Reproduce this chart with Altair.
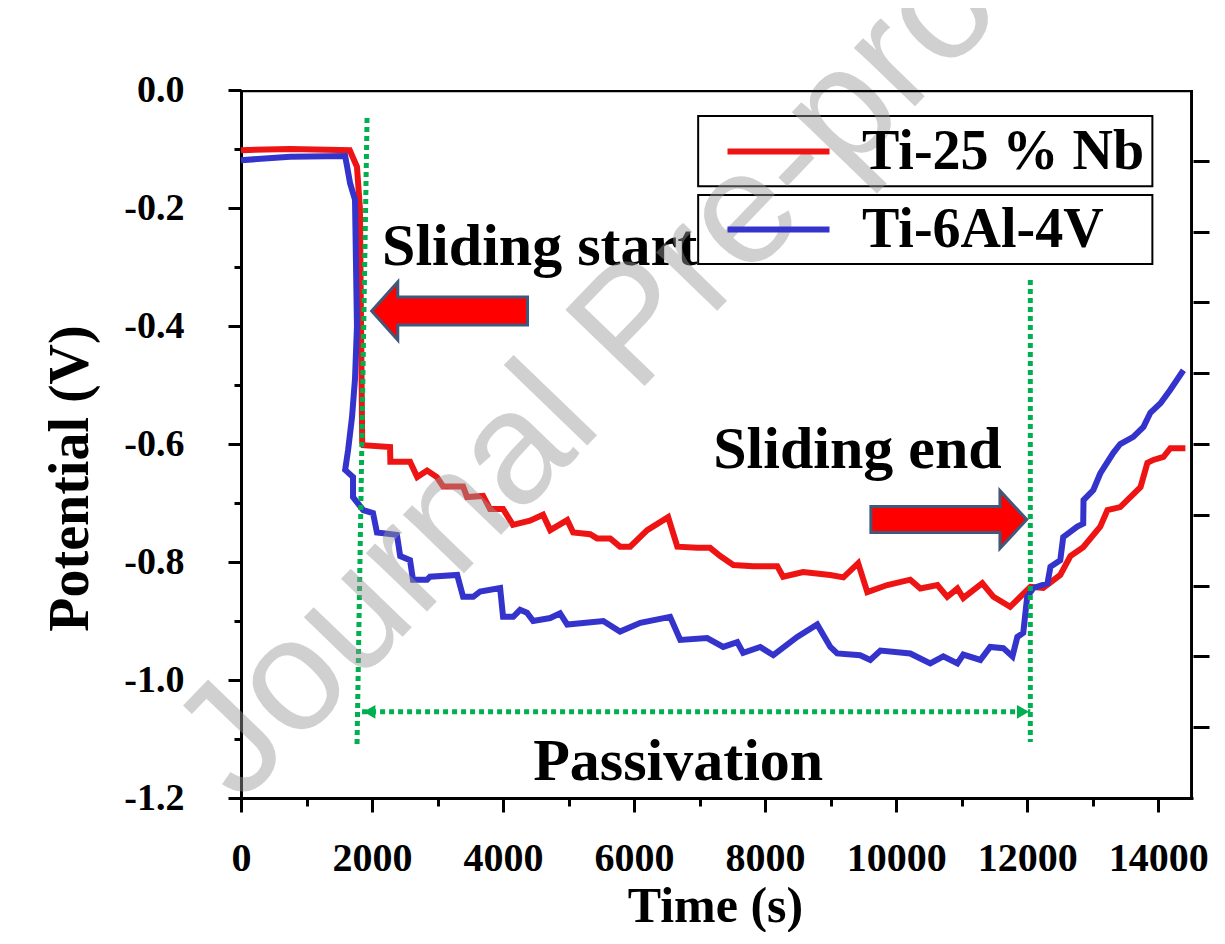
import altair as alt
import pandas as pd

# ---------------- data ----------------
series_names = ["Ti-25 % Nb", "Ti-6Al-4V"]
series_colors = ["#ee1414", "#3434cc"]

red_t = [0, 750, 1660, 1770, 1815, 1850, 1865, 2275, 2280, 2580,
         2690, 2840, 2990, 3085, 3390, 3450, 3695, 3800, 4000, 4150,
         4410, 4610, 4720, 4980, 5070, 5330, 5435, 5635, 5785, 5940,
         6200, 6520, 6660, 6965, 7160, 7315, 7515, 7820, 8185, 8275,
         8580, 8995, 9195, 9420, 9560, 9865, 10215, 10370, 10630, 10780,
         10935, 11025, 11315, 11485, 11740, 12050, 12245, 12505, 12660, 12855,
         13115, 13225, 13420, 13730, 13835, 13925, 14080, 14185, 14415]
red_v = [-0.102, -0.100, -0.102, -0.130, -0.200, -0.597, -0.602, -0.605, -0.630, -0.630,
         -0.656, -0.645, -0.656, -0.672, -0.672, -0.690, -0.688, -0.710, -0.710, -0.737,
         -0.730, -0.720, -0.746, -0.729, -0.750, -0.753, -0.760, -0.760, -0.774, -0.774,
         -0.746, -0.724, -0.774, -0.776, -0.776, -0.790, -0.805, -0.807, -0.807, -0.825,
         -0.817, -0.822, -0.826, -0.802, -0.851, -0.839, -0.830, -0.845, -0.839, -0.859,
         -0.845, -0.861, -0.836, -0.859, -0.876, -0.842, -0.844, -0.822, -0.790, -0.775,
         -0.740, -0.712, -0.707, -0.673, -0.632, -0.627, -0.622, -0.607, -0.607]

blue_t = [0, 750, 1590, 1620, 1665, 1740, 1770, 1740, 1695, 1635,
          1590, 1710, 1710, 1865, 2015, 2075, 2380, 2430, 2580, 2625,
          2840, 2885, 3300, 3390, 3545, 3650, 3955, 4000, 4155, 4260,
          4365, 4460, 4720, 4870, 4980, 5530, 5785, 6095, 6550, 6705,
          7115, 7360, 7575, 7665, 7925, 8125, 8490, 8795, 8995, 9100,
          9450, 9605, 9760, 10215, 10520, 10720, 10935, 11025, 11285, 11435,
          11635, 11775, 11850, 11940, 12000, 12095, 12310, 12355, 12505, 12550,
          12765, 12855, 12860, 13010, 13115, 13315, 13420, 13620, 13775, 13880,
          14035, 14185, 14385]
blue_v = [-0.119, -0.113, -0.112, -0.130, -0.158, -0.186, -0.400, -0.490, -0.554, -0.610,
          -0.644, -0.656, -0.690, -0.712, -0.717, -0.750, -0.754, -0.790, -0.797, -0.830,
          -0.830, -0.825, -0.822, -0.859, -0.859, -0.850, -0.844, -0.893, -0.893, -0.881,
          -0.886, -0.900, -0.895, -0.887, -0.906, -0.900, -0.918, -0.903, -0.893, -0.932,
          -0.929, -0.944, -0.936, -0.954, -0.944, -0.958, -0.927, -0.906, -0.944, -0.955,
          -0.958, -0.966, -0.950, -0.955, -0.972, -0.960, -0.972, -0.957, -0.966, -0.944,
          -0.946, -0.960, -0.927, -0.920, -0.859, -0.844, -0.836, -0.808, -0.797, -0.758,
          -0.740, -0.735, -0.695, -0.678, -0.650, -0.615, -0.600, -0.588, -0.571, -0.547,
          -0.531, -0.508, -0.475]

x_ticks = list(range(0, 15000, 1000))
y_ticks = [round(-1.2 + 0.1 * i, 1) + 0.0 for i in range(13)]
right_ticks = list(range(1, 10))

X_DOMAIN = [0, 14531]
Y_DOMAIN = [-1.2, 0.0]

# plot frame (top and right edges), data coordinates
frame_t1 = [X_DOMAIN[0], X_DOMAIN[1]]
frame_t2 = [X_DOMAIN[1], X_DOMAIN[1]]
frame_v1 = [Y_DOMAIN[1], Y_DOMAIN[0]]
frame_v2 = [Y_DOMAIN[1], Y_DOMAIN[1]]

# annotation anchors (data coordinates)
guide_t1 = [1924, 12048, 1848]
guide_t2 = [1771, 12048, 12048]
guide_v1 = [-0.0475, -0.322, -1.054]
guide_v2 = [-1.110, -1.105, -1.054]

head_t = [1960, 11936]
head_v = [-1.054, -1.054]
head_shape = ["triangle-left", "triangle-right"]

ARROW_LEFT = "M-1,0L-0.665,-0.374L-0.665,-0.18L1,-0.18L1,0.18L-0.665,0.18L-0.665,0.374Z"
ARROW_RIGHT = "M1,0L0.656,-0.37L0.656,-0.166L-1,-0.166L-1,0.166L0.656,0.166L0.656,0.37Z"
arrow_t = [3184, 10804]
arrow_v = [-0.3746, -0.728]
arrow_shape = [ARROW_LEFT, ARROW_RIGHT]

note_t = [2153, 7207, 4459]
note_v = [-0.2966, -0.6407, -1.1695]
note_text = ["Sliding start", "Sliding end", "Passivation"]

legend_box_t1 = [6978, 6978]
legend_box_t2 = [13911, 13911]
legend_box_v1 = [-0.044, -0.178]
legend_box_v2 = [-0.163, -0.295]

wm_t = [-15]
wm_v = [-1.212]
wm_text = ["Journal Pre-proof"]

# ---------------- styling ----------------
FONT = "Liberation Serif"
GREEN = "#00b050"

df_red = pd.DataFrame({"t": red_t, "V": red_v, "i": list(range(len(red_t))),
                       "series": series_names[0]})
df_blue = pd.DataFrame({"t": blue_t, "V": blue_v, "i": list(range(len(blue_t))),
                        "series": series_names[1]})
df_frame = pd.DataFrame({"t": frame_t1, "t2": frame_t2, "V": frame_v1, "V2": frame_v2})
df_guides = pd.DataFrame({"t": guide_t1, "t2": guide_t2, "V": guide_v1, "V2": guide_v2})
df_heads = pd.DataFrame({"t": head_t, "V": head_v, "shape": head_shape})
df_arrows = pd.DataFrame({"t": arrow_t, "V": arrow_v, "shape": arrow_shape})
df_notes = pd.DataFrame({"t": note_t, "V": note_v, "label": note_text})
df_boxes = pd.DataFrame({"t": legend_box_t1, "t2": legend_box_t2,
                         "V": legend_box_v1, "V2": legend_box_v2})
df_wm = pd.DataFrame({"t": wm_t, "V": wm_v, "label": wm_text})
df_right = pd.DataFrame({"r": [0, 10]})

x_axis = alt.Axis(
    values=x_ticks,
    labelExpr="datum.value % 2000 == 0 ? format(datum.value, 'd') : ''",
    tickSize={"condition": {"test": "datum.value % 2000 == 0", "value": 14}, "value": 8},
    tickWidth=3, tickColor="black", domainColor="black", domainWidth=3,
    labelFont=FONT, labelFontSize=40, labelFontWeight="bold", labelColor="black",
    labelPadding=26, labelFlush=False, labelOverlap=False,
    title="Time (s)", titleFont=FONT, titleFontSize=50, titleFontWeight="bold",
    titleColor="black", titleX=474, titleY=123, titleBaseline="alphabetic",
    grid=False,
)
y_axis = alt.Axis(
    values=y_ticks,
    labelExpr="abs(round(datum.value*10)) % 2 == 0 ? replace(format(datum.value, '.1f'), '\u2212', '-') : ''",
    tickSize={"condition": {"test": "abs(round(datum.value*10)) % 2 == 0", "value": 13}, "value": 7},
    tickWidth=3, tickColor="black", domainColor="black", domainWidth=3,
    labelFont=FONT, labelFontSize=38, labelFontWeight="bold", labelColor="black",
    labelPadding=44, labelFlush=False, labelOverlap=False,
    title="Potential (V)", titleFont=FONT, titleFontSize=56, titleFontWeight="bold",
    titleColor="black", titleX=-154, titleY=388, titleBaseline="alphabetic",
    grid=False,
)

x_enc = alt.X("t:Q", scale=alt.Scale(domain=X_DOMAIN, nice=False, zero=False), axis=x_axis)
y_enc = alt.Y("V:Q", scale=alt.Scale(domain=Y_DOMAIN, nice=False, zero=False), axis=y_axis)

LEGEND_LINE = "M-2,0L2,0"


def make_legend(ypos):
    return alt.Legend(
        orient="none", legendX=452, legendY=ypos, title=None,
        symbolType=LEGEND_LINE, symbolSize=2601, symbolStrokeWidth=6,
        symbolOffset=50, labelOffset=55, padding=7,
        labelFont=FONT, labelFontSize=56, labelFontWeight="bold", labelColor="black",
        labelLimit=600,
        strokeColor="transparent", fillColor="transparent",
    )


boxes = alt.Chart(df_boxes).mark_rect(fill="white", stroke="black", strokeWidth=2).encode(
    x=x_enc, y=y_enc, x2="t2:Q", y2="V2:Q"
)

red_line = alt.Chart(df_red).mark_line(strokeWidth=6).encode(
    x="t:Q", y="V:Q", order="i:Q",
    color=alt.Color("series:N",
                    scale=alt.Scale(domain=[series_names[0]], range=[series_colors[0]]),
                    legend=make_legend(26)),
)
blue_line = alt.Chart(df_blue).mark_line(strokeWidth=6).encode(
    x="t:Q", y="V:Q", order="i:Q",
    color=alt.Color("series:N",
                    scale=alt.Scale(domain=[series_names[1]], range=[series_colors[1]]),
                    legend=make_legend(104)),
)

guides = alt.Chart(df_guides).mark_rule(color=GREEN, strokeWidth=5, strokeDash=[5, 4]).encode(
    x="t:Q", x2="t2:Q", y="V:Q", y2="V2:Q"
)
heads = alt.Chart(df_heads).mark_point(filled=True, color=GREEN, opacity=1, size=190).encode(
    x="t:Q", y="V:Q", shape=alt.Shape("shape:N", scale=None)
)
arrows = alt.Chart(df_arrows).mark_point(
    filled=True, fill="#ff0000", stroke="#41587a", strokeWidth=3, opacity=1, size=24300
).encode(x="t:Q", y="V:Q", shape=alt.Shape("shape:N", scale=None))

notes = alt.Chart(df_notes).mark_text(
    align="left", baseline="alphabetic", font=FONT, fontSize=60, fontWeight="bold", color="black"
).encode(x="t:Q", y="V:Q", text="label:N")

watermark = alt.Chart(df_wm).mark_text(
    align="left", baseline="alphabetic", angle=314, font="Liberation Sans",
    fontSize=160, color="#999999", opacity=0.45
).encode(x="t:Q", y="V:Q", text="label:N")

# frame drawn as two thin filled rectangles along the top and right edges
frame_top = alt.Chart(df_frame.iloc[[0]]).mark_rect(color="black", opacity=1).encode(
    x="t:Q", x2="t2:Q", y="V:Q", y2=alt.Y2Datum(-0.004)
)
frame_right = alt.Chart(df_frame.iloc[[1]]).mark_rect(color="black", opacity=1).encode(
    x="t:Q", x2=alt.X2Datum(X_DOMAIN[1] - 45), y="V:Q", y2="V2:Q"
)

main = alt.layer(boxes, red_line, blue_line, guides, heads, arrows, notes,
                 watermark, frame_top, frame_right).resolve_scale(color="independent")

right = alt.Chart(df_right).mark_point(opacity=0).encode(
    y=alt.Y("r:Q", scale=alt.Scale(domain=[0, 10], nice=False),
            axis=alt.Axis(orient="right", values=right_ticks, labels=False, domain=False,
                          tickSize=16, tickWidth=3, tickColor="black", title=None, grid=False)),
)

chart = alt.layer(main, right).resolve_scale(y="independent").properties(
    width=952, height=708,
    background="white",
    autosize=alt.AutoSizeParams(type="none"),
    padding={"left": 233, "top": 82, "right": 20, "bottom": 134},
).configure_view(stroke="transparent")

chart.save("out.html", embed_options={"renderer": "svg", "actions": False})
